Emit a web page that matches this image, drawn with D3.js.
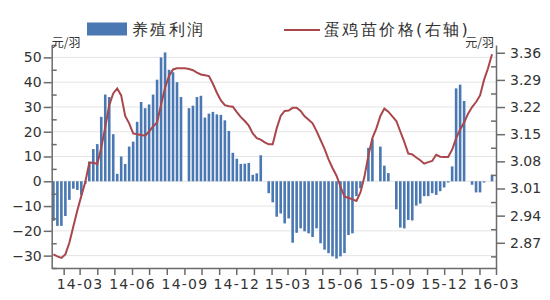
<!DOCTYPE html>
<html>
<head>
<meta charset="utf-8">
<script src="https://cdn.jsdelivr.net/npm/d3@7"></script>
<style>
  body { margin: 0; background: #fff; }
  svg text { font-family: "DejaVu Sans", sans-serif; fill: #333; }
</style>
</head>
<body>
<div id="chart"></div>
<script>
// weekly series, first week 2014-01-14
const firstWeek = new Date(2014, 0, 14);

// 养殖利润 (元/羽), left axis; null = no bar that week
const profit = [
  -16, -18, -18, -14, -7.5, -3, -3.5, -5.5, -1, 8,
  13, 15, 26, 35, 34, 19, 3, 10, 7, 14,
  16, 24, 32, 29.5, 31, 35, 41, 50, 52, 45,
  44, 40, 34, null, 29.5, 30.5, 34, 34.5, 25.7, 27.3,
  28, 27, 26.8, 24.6, 20.3, 11.5, 9.1, 7, 7.1, 7.4,
  2.6, 3.2, 10.5, null, -4.8, -8.5, -14.3, -13, -17, -15,
  -24.8, -20.8, -19, -20.2, -21, -22.5, -19, -25, -27.6, -29,
  -30.3, -31.2, -30.3, -29, -21.7, -21, -6, -2.8, null, 13.5,
  17, null, 14, 6.3, 3.3, null, -11.3, -18.7, -19, -15.6,
  -15.8, -9.8, -9, -6, -6, -4.8, -5.5, -4, -2.5, -0.5,
  6, 37.5, 39, 32.4, null, -1.4, -4.5, -4.5, -0.5, null, 2.6
];

// 蛋鸡苗价格 (元/羽), right axis
const price = [
  2.840, 2.835, 2.831, 2.840, 2.870, 2.912, 2.953, 2.991, 3.027, 3.076,
  3.077, 3.073, 3.115, 3.168, 3.225, 3.255, 3.268, 3.250, 3.197, 3.178,
  3.152, 3.150, 3.148, 3.146, 3.157, 3.170, 3.180, 3.226, 3.270, 3.300,
  3.317, 3.320, 3.320, 3.320, 3.318, 3.315, 3.309, 3.304, 3.302, 3.300,
  3.280, 3.257, 3.237, 3.225, 3.222, 3.221, 3.207, 3.194, 3.184, 3.172,
  3.152, 3.140, 3.136, 3.129, 3.124, 3.124, 3.165, 3.197, 3.210, 3.211,
  3.218, 3.218, 3.210, 3.196, 3.187, 3.178, 3.158, 3.135, 3.112, 3.085,
  3.063, 3.043, 3.015, 2.989, 2.986, 2.982, 2.978, 3.000, 3.040, 3.095,
  3.140, 3.165, 3.197, 3.216, 3.208, 3.196, 3.184, 3.157, 3.130, 3.100,
  3.098, 3.090, 3.083, 3.074, 3.078, 3.081, 3.097, 3.092, 3.091, 3.091,
  3.110, 3.140, 3.162, 3.180, 3.203, 3.220, 3.233, 3.250, 3.290, 3.320, 3.356
];

const leftTicks = [-30, -20, -10, 0, 10, 20, 30, 40, 50];
const leftMinor = [-35, -25, -15, -5, 5, 15, 25, 35, 45, 55];
const rightTicks = [2.87, 2.94, 3.01, 3.08, 3.15, 3.22, 3.29, 3.36];
const rightMinor = [2.835, 2.905, 2.975, 3.045, 3.115, 3.185, 3.255, 3.325];

const barName = "养殖利润";
const lineName = "蛋鸡苗价格(右轴)";
const unitLabel = "元/羽";

const width = 550, height = 300;
const plotLeft = 51.7, plotRight = 496, plotTop = 45, plotBottom = 268;

const dates = profit.map((d, i) => d3.timeDay.offset(firstWeek, 7 * i));

const svg = d3.select("#chart").append("svg")
  .attr("width", width)
  .attr("height", height);

svg.append("rect").attr("width", width).attr("height", height).attr("fill", "#fff");

const x = d3.scaleTime()
  .domain([new Date(2014, 0, 11), new Date(2016, 2, 1)])
  .range([plotLeft, plotRight]);

const y = d3.scaleLinear().domain([-35, 55]).range([plotBottom, plotTop]);
const y2 = d3.scaleLinear().domain([2.805, 3.38]).range([plotBottom, plotTop]);

// gridlines
svg.append("g")
  .selectAll("line")
  .data(leftTicks)
  .join("line")
  .attr("x1", plotLeft).attr("x2", plotRight)
  .attr("y1", d => y(d)).attr("y2", d => y(d))
  .attr("stroke", "#e4e4e4")
  .attr("stroke-width", 1);

// bars
const barW = 2.6;
svg.append("g")
  .selectAll("rect")
  .data(profit.map((v, i) => ({ date: dates[i], v })).filter(d => d.v !== null))
  .join("rect")
  .attr("x", d => x(d.date) - barW / 2)
  .attr("width", barW)
  .attr("y", d => y(Math.max(0, d.v)))
  .attr("height", d => Math.abs(y(d.v) - y(0)))
  .attr("fill", "#4a78b2");

// price line
const line = d3.line()
  .x((d, i) => x(dates[i]))
  .y(d => y2(d))
  .curve(d3.curveLinear);

svg.append("path")
  .datum(price)
  .attr("d", line)
  .attr("fill", "none")
  .attr("stroke", "#a9474d")
  .attr("stroke-width", 2);

const axisColor = "#6b6b6b";
function styleAxis(g) {
  g.selectAll("path, line").attr("stroke", axisColor).attr("stroke-width", 1.5);
  g.selectAll("text").attr("font-size", 14).attr("fill", "#333");
}

// left axis
svg.append("g")
  .attr("transform", `translate(${plotLeft},0)`)
  .call(d3.axisLeft(y).tickValues(leftTicks).tickSize(8).tickPadding(2).tickSizeOuter(0))
  .call(styleAxis);
svg.append("g")
  .attr("transform", `translate(${plotLeft},0)`)
  .call(d3.axisRight(y).tickValues(leftMinor).tickSize(5).tickFormat("").tickSizeOuter(0))
  .call(styleAxis)
  .call(g => g.select(".domain").remove());

// right axis
svg.append("g")
  .attr("transform", `translate(${plotRight},0)`)
  .call(d3.axisRight(y2).tickValues(rightTicks).tickSize(9).tickPadding(5)
    .tickFormat(d3.format(".2f")).tickSizeOuter(0))
  .call(styleAxis);
svg.append("g")
  .attr("transform", `translate(${plotRight},0)`)
  .call(d3.axisLeft(y2).tickValues(rightMinor).tickSize(5).tickFormat("").tickSizeOuter(0))
  .call(styleAxis)
  .call(g => g.select(".domain").remove());

// x axis
const fmt = d3.timeFormat("%y-%m");
svg.append("g")
  .attr("transform", `translate(0,${plotBottom})`)
  .call(d3.axisBottom(x).ticks(d3.timeMonth.every(1)).tickSize(7).tickPadding(4)
    .tickFormat(d => d.getMonth() % 3 === 2 ? fmt(d) : "").tickSizeOuter(0))
  .call(styleAxis)
  .call(g => g.selectAll("text").attr("letter-spacing", 1.2));

// unit labels
svg.append("text")
  .attr("x", plotLeft).attr("y", 47)
  .attr("font-size", 12)
  .style("font-family", "'Noto Sans CJK SC', sans-serif")
  .text(unitLabel);
svg.append("text")
  .attr("x", plotRight - 2).attr("y", 47)
  .attr("text-anchor", "end")
  .attr("font-size", 12)
  .style("font-family", "'Noto Sans CJK SC', sans-serif")
  .text(unitLabel);

// legend
const legend = svg.append("g").style("font-family", "'Noto Sans CJK SC', sans-serif");
legend.append("rect")
  .attr("x", 87).attr("y", 22.5).attr("width", 40).attr("height", 13)
  .attr("fill", "#4a78b2");
legend.append("text")
  .attr("x", 132).attr("y", 35)
  .attr("font-size", 16).attr("letter-spacing", 2.4)
  .text(barName);
legend.append("line")
  .attr("x1", 284).attr("x2", 320).attr("y1", 30).attr("y2", 30)
  .attr("stroke", "#a9474d").attr("stroke-width", 2);
legend.append("text")
  .attr("x", 324).attr("y", 35)
  .attr("font-size", 16).attr("letter-spacing", 2.4)
  .text(lineName);
</script>
</body>
</html>
